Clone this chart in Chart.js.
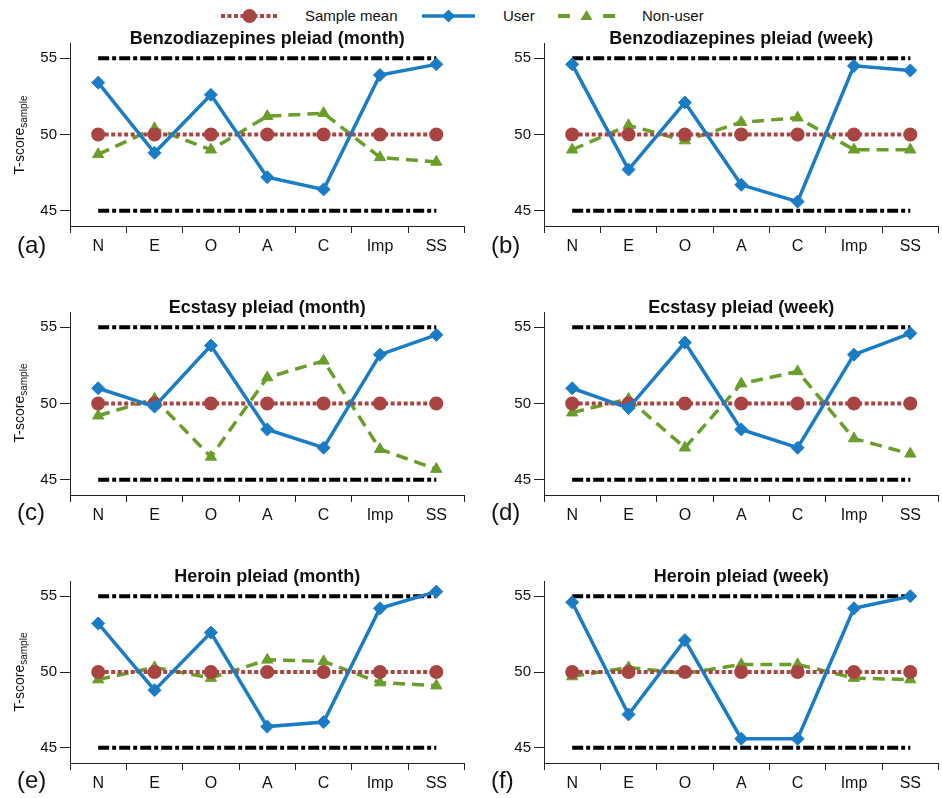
<!DOCTYPE html>
<html>
<head>
<meta charset="utf-8">
<script src="https://cdn.jsdelivr.net/npm/chart.js@4.4.1/dist/chart.umd.min.js"></script>
<style>
  body { margin: 0; width: 942px; height: 798px; overflow: hidden; background: #fff; position: relative;
         font-family: "Liberation Sans", Arial, sans-serif; color: #111; }
  canvas { position: absolute; }
  .letter { position: absolute; font-size: 24px; line-height: 28px; }
  .ylab { position: absolute; font-size: 14px; white-space: nowrap; transform: translate(-50%, -50%) rotate(-90deg); }
  .ylab sub { font-size: 10px; vertical-align: -3px; }
  .leg { position: absolute; top: 7px; font-size: 15px; line-height: 18px; }
  svg { position: absolute; z-index: 2; }
</style>
</head>
<body>

<svg style="left:221px;top:8px" width="57" height="16">
  <line x1="0" y1="8" x2="57" y2="8" stroke="#A84442" stroke-width="4" stroke-dasharray="4 2.5"/>
  <circle cx="28.5" cy="8" r="7" fill="#A84442"/>
</svg>
<span class="leg" style="left:305px">Sample mean</span>
<svg style="left:422px;top:8px" width="53" height="16">
  <line x1="0" y1="8" x2="53" y2="8" stroke="#1B7CC6" stroke-width="3.5"/>
  <polygon points="26.5,1.5 33,8 26.5,14.5 20,8" fill="#1B7CC6"/>
</svg>
<span class="leg" style="left:503px">User</span>
<svg style="left:558px;top:8px" width="57" height="16">
  <line x1="0" y1="8" x2="57" y2="8" stroke="#6A9E2A" stroke-width="4" stroke-dasharray="12 33"/>
  <polygon points="28.5,2 34.5,12 22.5,12" fill="#6A9E2A"/>
</svg>
<span class="leg" style="left:642px">Non-user</span>

<script>
const categories = ['N', 'E', 'O', 'A', 'C', 'Imp', 'SS'];
const sampleMean = [50, 50, 50, 50, 50, 50, 50];
const upperBound = [55, 55, 55, 55, 55, 55, 55];
const lowerBound = [45, 45, 45, 45, 45, 45, 45];
const yTicks = [45, 50, 55];

const userBenzoMonth    = [53.4, 48.8, 52.6, 47.2, 46.4, 53.9, 54.6];
const nonUserBenzoMonth = [48.7, 50.4, 49.0, 51.2, 51.4, 48.5, 48.2];
const userBenzoWeek     = [54.6, 47.7, 52.1, 46.7, 45.6, 54.5, 54.2];
const nonUserBenzoWeek  = [49.0, 50.6, 49.6, 50.8, 51.1, 49.0, 49.0];
const userEcstasyMonth    = [51.0, 49.8, 53.8, 48.3, 47.1, 53.2, 54.5];
const nonUserEcstasyMonth = [49.2, 50.3, 46.5, 51.7, 52.8, 47.0, 45.7];
const userEcstasyWeek     = [51.0, 49.7, 54.0, 48.3, 47.1, 53.2, 54.6];
const nonUserEcstasyWeek  = [49.4, 50.3, 47.1, 51.3, 52.1, 47.7, 46.7];
const userHeroinMonth    = [53.2, 48.8, 52.6, 46.4, 46.7, 54.2, 55.3];
const nonUserHeroinMonth = [49.5, 50.3, 49.6, 50.8, 50.7, 49.3, 49.1];
const userHeroinWeek     = [54.6, 47.2, 52.1, 45.6, 45.6, 54.2, 55.0];
const nonUserHeroinWeek  = [49.7, 50.3, 49.9, 50.5, 50.5, 49.6, 49.5];

const FONT = '"Liberation Sans", Arial, sans-serif';
const BLUE = '#1B7CC6', GREEN = '#6A9E2A', BROWN = '#A84442';

const panels = [
  { title: 'Benzodiazepines pleiad (month)', user: userBenzoMonth, nonUser: nonUserBenzoMonth, left: 70, top: 43.3, bottom: 226.7, letter: '(a)', ylabel: true },
  { title: 'Benzodiazepines pleiad (week)', user: userBenzoWeek, nonUser: nonUserBenzoWeek, left: 544, top: 43.3, bottom: 226.7, letter: '(b)' },
  { title: 'Ecstasy pleiad (month)', user: userEcstasyMonth, nonUser: nonUserEcstasyMonth, left: 70, top: 311.7, bottom: 494.3, letter: '(c)', ylabel: true },
  { title: 'Ecstasy pleiad (week)', user: userEcstasyWeek, nonUser: nonUserEcstasyWeek, left: 544, top: 311.7, bottom: 494.3, letter: '(d)' },
  { title: 'Heroin pleiad (month)', user: userHeroinMonth, nonUser: nonUserHeroinMonth, left: 70, top: 580.7, bottom: 762.3, letter: '(e)', ylabel: true },
  { title: 'Heroin pleiad (week)', user: userHeroinWeek, nonUser: nonUserHeroinWeek, left: 544, top: 580.7, bottom: 762.3, letter: '(f)' }
];

// title sits right on top of the plot box
const panelTitle = {
  id: 'panelTitle',
  afterDraw(chart, args, opts) {
    const { ctx, chartArea } = chart;
    ctx.save();
    ctx.font = 'bold 18px ' + FONT;
    ctx.fillStyle = '#111';
    ctx.textAlign = 'center';
    ctx.textBaseline = 'alphabetic';
    ctx.fillText(opts.text, (chartArea.left + chartArea.right) / 2, chartArea.top + 1);
    ctx.restore();
  }
};

panels.forEach(p => {
  const cv = document.createElement('canvas');
  const w = 472, h = Math.round(40 + (p.bottom - p.top) + 30);
  cv.width = w; cv.height = h;
  cv.style.left = (p.left - 70) + 'px';
  cv.style.top = (p.top - 40) + 'px';
  cv.style.width = w + 'px'; cv.style.height = h + 'px';
  document.body.appendChild(cv);

  new Chart(cv, {
    type: 'line',
    data: {
      labels: categories,
      datasets: [
        { data: p.user, borderColor: BLUE, backgroundColor: BLUE, borderWidth: 3.5,
          pointStyle: 'rectRot', pointRadius: 6.5, pointBorderWidth: 1, order: 1 },
        { data: sampleMean, borderColor: BROWN, backgroundColor: BROWN, borderWidth: 4, borderDash: [4, 2.5],
          pointStyle: 'circle', pointRadius: 7, pointBorderWidth: 0, order: 2 },
        { data: p.nonUser, borderColor: GREEN, backgroundColor: GREEN, borderWidth: 3.5, borderDash: [12, 7],
          pointStyle: 'triangle', pointRadius: 6.5, pointBorderWidth: 1, order: 3 },
        { data: upperBound, borderColor: '#000', borderWidth: 4, borderDash: [11, 3, 4, 3], pointRadius: 0, order: 4 },
        { data: lowerBound, borderColor: '#000', borderWidth: 4, borderDash: [11, 3, 4, 3], pointRadius: 0, order: 5 }
      ]
    },
    options: {
      responsive: false,
      animation: false,
      devicePixelRatio: 1,
      layout: { padding: { top: 40, left: 0, right: 0, bottom: 0 } },
      elements: { line: { tension: 0, borderCapStyle: 'butt' } },
      plugins: { legend: { display: false }, tooltip: { enabled: false }, panelTitle: { text: p.title } },
      scales: {
        x: {
          offset: true,
          grid: { offset: true, drawOnChartArea: false, tickLength: 7, color: '#222', lineWidth: 1 },
          border: { color: '#222', width: 1 },
          ticks: { font: { family: FONT, size: 16 }, color: '#111', padding: 4, autoSkip: false, maxRotation: 0 },
          afterFit: s => { s.height = 30; }
        },
        y: {
          min: 44, max: 56,
          afterBuildTicks: s => { s.ticks = yTicks.map(v => ({ value: v })); },
          grid: { drawOnChartArea: false, tickLength: 10, color: '#222', lineWidth: 1 },
          border: { color: '#222', width: 1 },
          ticks: { font: { family: FONT, size: 15 }, color: '#111', padding: 3 },
          afterFit: s => { s.width = 70; }
        }
      }
    },
    plugins: [panelTitle]
  });

  const letter = document.createElement('div');
  letter.className = 'letter';
  letter.textContent = p.letter;
  letter.style.left = (p.left - 53) + 'px';
  letter.style.top = (p.bottom + 4) + 'px';
  document.body.appendChild(letter);

  if (p.ylabel) {
    const yl = document.createElement('div');
    yl.className = 'ylab';
    yl.innerHTML = 'T-score<sub>sample</sub>';
    yl.style.left = '20px';
    yl.style.top = ((p.top + p.bottom) / 2) + 'px';
    document.body.appendChild(yl);
  }
});
</script>
</body>
</html>
